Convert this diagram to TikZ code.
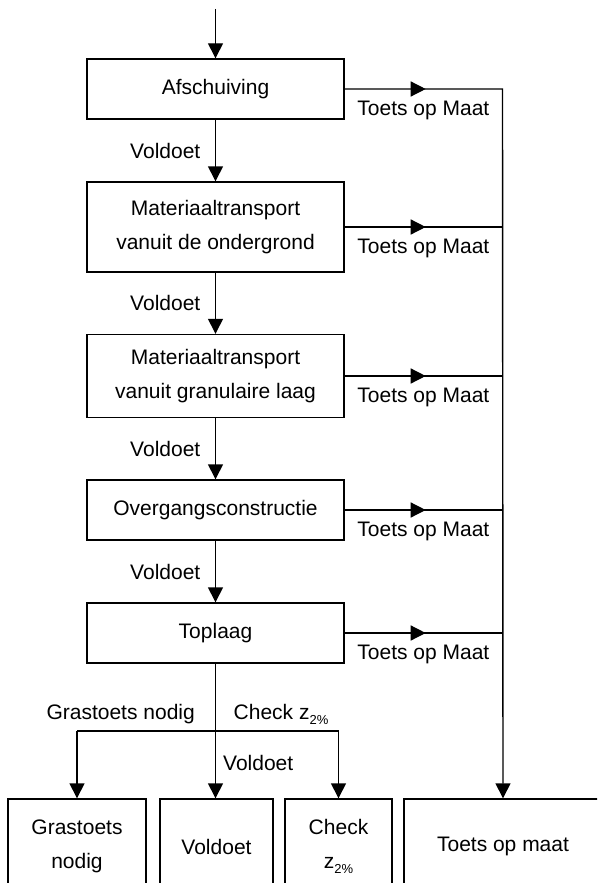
\documentclass[tikz,border=0pt]{standalone}
\usepackage{fontspec}
\setmainfont{Liberation Sans}
\usetikzlibrary{arrows.meta,decorations.markings,calc}

\newcommand{\zsub}{z\raisebox{-0.45ex}{\fontsize{13}{13}\selectfont 2\%}}

\begin{document}
\begin{tikzpicture}[x=1pt, y=-1pt, line width=1.4pt,
    box/.style={draw, align=center, inner sep=0pt, minimum width=257pt, minimum height=60pt,
        font=\fontsize{21}{34.5}\selectfont},
    lbl/.style={inner sep=0pt, font=\fontsize{21}{25}\selectfont},
    arr/.style={-{Triangle[length=15pt,width=15pt]}},
    midarr/.style={postaction={decorate}, decoration={markings,
        mark=at position 81pt with {\arrow{Triangle[length=15pt,width=15pt]}}}}]

    \useasboundingbox (0,0) rectangle (597,883);
    \clip (0,0) rectangle (597,883);

    % main column
    \node[box] (af) at (215.5,89) {Afschuiving};
    \node[box, minimum height=90pt] (mo) at (215.5,227) {Materiaaltransport\\vanuit de ondergrond};
    \node[box, minimum height=83pt] (mg) at (215.5,376) {Materiaaltransport\\vanuit granulaire laag};
    \node[box] (ov) at (215.5,510) {Overgangsconstructie};
    \node[box] (tl) at (215.5,633) {Toplaag};

    % outcomes
    \node[box, minimum width=138pt, minimum height=95pt] (gn) at (77,846.5) {Grastoets\\nodig};
    \node[box, minimum width=113pt, minimum height=95pt] (vd) at (216.5,846.5) {Voldoet};
    \node[box, minimum width=107pt, minimum height=95pt] (ck) at (338.5,846.5) {Check\\\zsub};
    \node[box, minimum width=198pt, minimum height=95pt] (tm) at (503,846.5) {Toets op maat};

    \coordinate (in) at (215.5,9);
    \coordinate (rail) at (502.5,89);
    \coordinate (split) at (215.5,731);

    \draw[arr] (in) -- (af.north);
    \draw[arr] (af) -- (mo);
    \draw[arr] (mo) -- (mg);
    \draw[arr] (mg) -- (ov);
    \draw[arr] (ov) -- (tl);

    \foreach \a/\b in {af/mo,mo/mg,mg/ov,ov/tl}
        \node[lbl, anchor=east] at ([xshift=-14.5pt]$(\a.south)!0.5!(\b.north)$) {Voldoet};

    % toets op maat
    \draw[arr, midarr] (af.east) -- (rail) -- (tm.north);
    \foreach \b in {mo,mg,ov,tl}
        \draw[midarr] (\b.east) -- (\b.east -| rail);
    \foreach \b in {af,mo,mg,ov,tl}
        \node[lbl, anchor=west] at ([xshift=12pt,yshift=-21pt]\b.east) {Toets op Maat};

    % toplaag split
    \draw[arr] (tl.south) -- (tl.south |- vd.north);
    \draw (split -| gn.north) -- (split -| ck.north);
    \draw[arr] (split -| gn.north) -- (gn.north);
    \draw[arr] (split -| ck.north) -- (ck.north);

    \node[lbl, anchor=east] at (195.5,714) {Grastoets nodig};
    \node[lbl, anchor=west] at (233,714) {Check \zsub};
    \node[lbl, anchor=west] at (222.5,762.5) {Voldoet};
\end{tikzpicture}
\end{document}
